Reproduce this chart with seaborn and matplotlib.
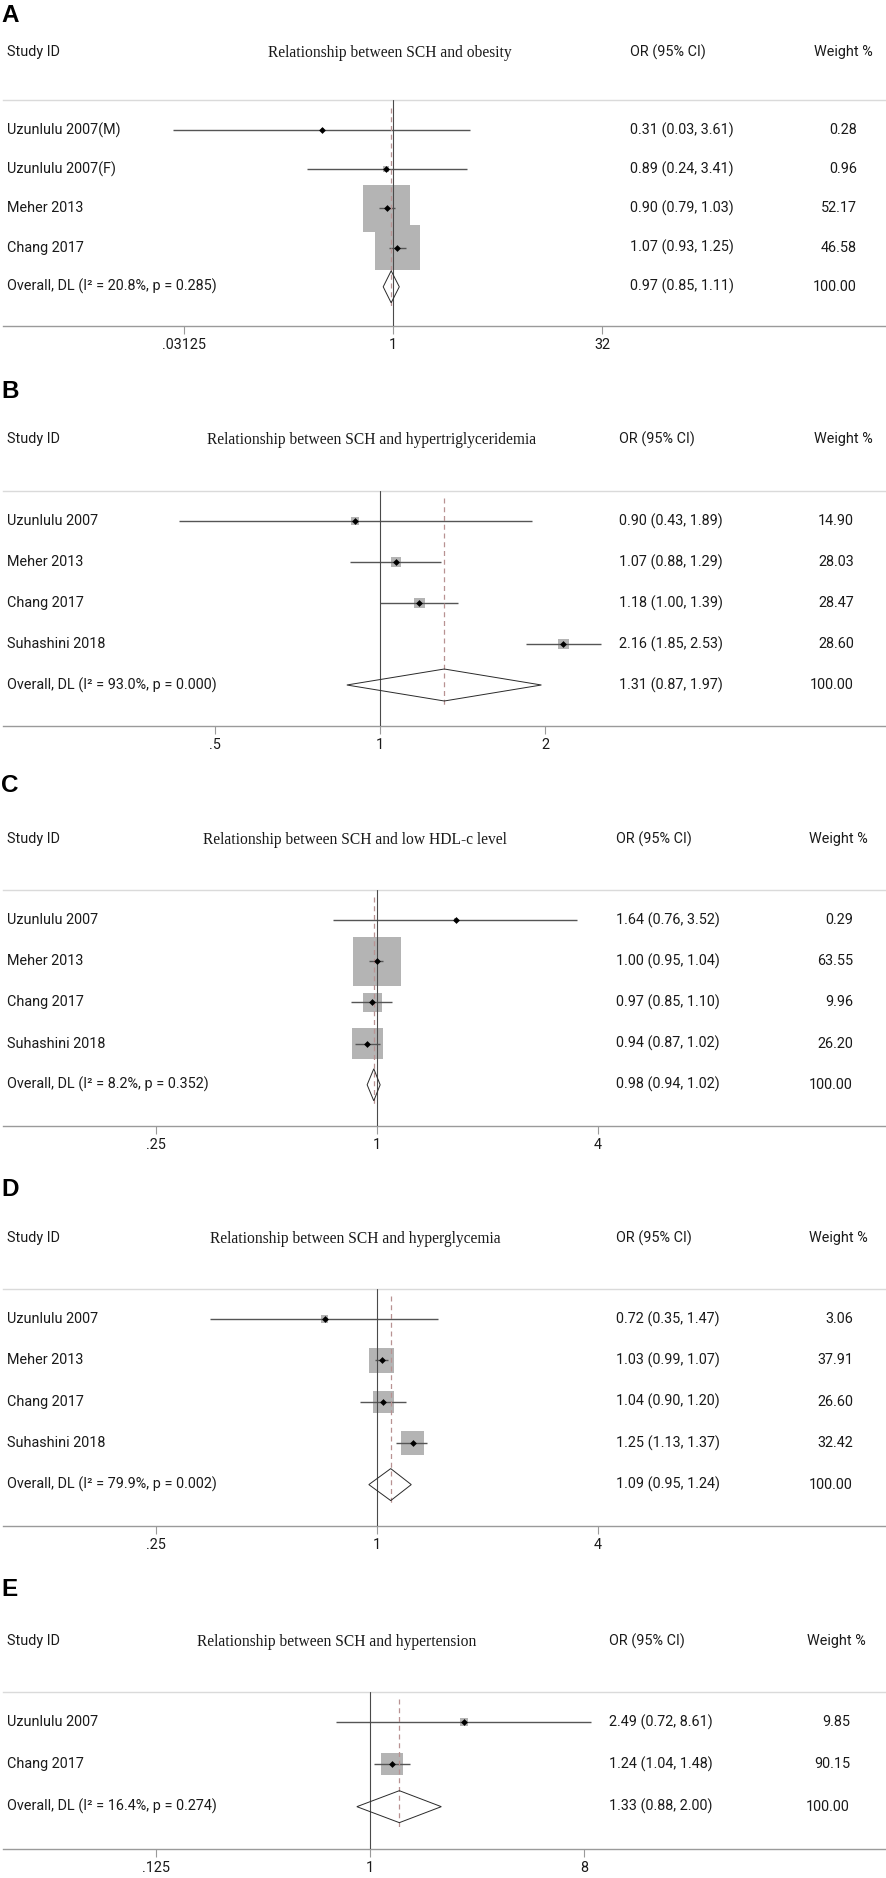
import numpy as np
import pandas as pd
import matplotlib
matplotlib.use("Agg")
import matplotlib.pyplot as plt
import seaborn as sns
from matplotlib.transforms import blended_transform_factory
from matplotlib.ticker import FixedLocator, FixedFormatter, NullLocator

# ---------------- data ----------------
a_studies = ["Uzunlulu 2007(M)", "Uzunlulu 2007(F)", "Meher 2013", "Chang 2017"]
a_or = [0.31, 0.89, 0.90, 1.07]
a_lo = [0.026, 0.24, 0.79, 0.93]
a_hi = [3.61, 3.41, 1.03, 1.25]
a_wt = [0.28, 0.96, 52.17, 46.58]
a_overall = [0.97, 0.85, 1.11]
a_het = ["20.8%", "0.285"]
a_ticks = [0.03125, 1, 32]
a_ticklabels = [".03125", "1", "32"]
a_title = "Relationship between SCH and obesity"

b_studies = ["Uzunlulu 2007", "Meher 2013", "Chang 2017", "Suhashini 2018"]
b_or = [0.90, 1.07, 1.18, 2.16]
b_lo = [0.43, 0.88, 1.00, 1.85]
b_hi = [1.89, 1.29, 1.39, 2.53]
b_wt = [14.90, 28.03, 28.47, 28.60]
b_overall = [1.31, 0.87, 1.97]
b_het = ["93.0%", "0.000"]
b_ticks = [0.5, 1, 2]
b_ticklabels = [".5", "1", "2"]
b_title = "Relationship between SCH and hypertriglyceridemia"

c_studies = ["Uzunlulu 2007", "Meher 2013", "Chang 2017", "Suhashini 2018"]
c_or = [1.64, 1.00, 0.97, 0.94]
c_lo = [0.76, 0.95, 0.85, 0.87]
c_hi = [3.52, 1.04, 1.10, 1.02]
c_wt = [0.29, 63.55, 9.96, 26.20]
c_overall = [0.98, 0.94, 1.02]
c_het = ["8.2%", "0.352"]
c_ticks = [0.25, 1, 4]
c_ticklabels = [".25", "1", "4"]
c_title = "Relationship between SCH and low HDL-c level"

d_studies = ["Uzunlulu 2007", "Meher 2013", "Chang 2017", "Suhashini 2018"]
d_or = [0.72, 1.03, 1.04, 1.25]
d_lo = [0.35, 0.99, 0.90, 1.13]
d_hi = [1.47, 1.07, 1.20, 1.37]
d_wt = [3.06, 37.91, 26.60, 32.42]
d_overall = [1.09, 0.95, 1.24]
d_het = ["79.9%", "0.002"]
d_ticks = [0.25, 1, 4]
d_ticklabels = [".25", "1", "4"]
d_title = "Relationship between SCH and hyperglycemia"

e_studies = ["Uzunlulu 2007", "Chang 2017"]
e_or = [2.49, 1.24]
e_lo = [0.72, 1.04]
e_hi = [8.61, 1.48]
e_wt = [9.85, 90.15]
e_overall = [1.33, 0.88, 2.00]
e_het = ["16.4%", "0.274"]
e_ticks = [0.125, 1, 8]
e_ticklabels = [".125", "1", "8"]
e_title = "Relationship between SCH and hypertension"

panel_letters = ["A", "B", "C", "D", "E"]

# ---------------- layout (pixels) ----------------
W, H = 886, 1878
layout = {
    #     label_y head_y sep  axis  x_one  ppo   title_cx or_x wt_r hwt_r box_k
    "A": (16,   52,   100,  326,  393, 41.8,  390, 630, 857, 873, 6.6),
    "B": (392,  439,  491,  726,  380, 165.0, 372, 619, 854, 873, 1.95),
    "C": (786,  839,  890,  1126, 377, 110.4, 355, 616, 853, 868, 6.1),
    "D": (1189, 1238, 1289, 1526, 377, 110.4, 355, 616, 853, 868, 4.15),
    "E": (1589, 1641, 1692, 1849, 370, 71.3,  337, 609, 850, 866, 2.35),
}

panels = {
    "A": (a_studies, a_or, a_lo, a_hi, a_wt, a_overall, a_het, a_ticks, a_ticklabels, a_title),
    "B": (b_studies, b_or, b_lo, b_hi, b_wt, b_overall, b_het, b_ticks, b_ticklabels, b_title),
    "C": (c_studies, c_or, c_lo, c_hi, c_wt, c_overall, c_het, c_ticks, c_ticklabels, c_title),
    "D": (d_studies, d_or, d_lo, d_hi, d_wt, d_overall, d_het, d_ticks, d_ticklabels, d_title),
    "E": (e_studies, e_or, e_lo, e_hi, e_wt, e_overall, e_het, e_ticks, e_ticklabels, e_title),
}

sns.set_theme(style="white")
plt.rcParams["font.family"] = ["Roboto", "DejaVu Sans"]

SANS = ["Roboto", "DejaVu Sans"]
SERIF = ["Liberation Serif", "DejaVu Serif"]
TXT = "#1a1a1a"
FS = 10.4

fig = plt.figure(figsize=(W / 100, H / 100), dpi=100)
fig.patch.set_facecolor("white")


def fx(px):
    return px / W


def fy(py):
    return 1 - py / H


for letter in panel_letters:
    studies, ors, los, his, wts, overall, het, ticks, ticklabels, title = panels[letter]
    (label_y, head_y, sep_y, axis_y, x_one, ppo, title_cx,
     or_x, wt_r, hwt_r, box_k) = layout[letter]

    n = len(studies) + 1
    spacing = (axis_y - sep_y - 30) / n

    ax = fig.add_axes([fx(3), fy(axis_y), fx(W - 3), (axis_y - sep_y) / H])
    ax.set_facecolor("none")
    ax.set_xscale("log", base=2)
    ax.set_xlim(2 ** ((3 - x_one) / ppo), 2 ** ((W - x_one) / ppo))
    ax.set_ylim(n, -30 / spacing)

    rows = np.arange(len(studies))
    df = pd.DataFrame({"study": studies, "or": ors, "lo": los, "hi": his,
                       "wt": wts, "row": rows})

    # weight boxes (area proportional to weight)
    side_pt2 = (box_k * 0.72) ** 2
    sns.scatterplot(data=df, x="or", y="row", size="wt", sizes=(0, side_pt2 * 100),
                    size_norm=(0, 100), marker="s", color="#b4b4b4", linewidth=0,
                    legend=False, ax=ax, zorder=1)
    # confidence intervals
    ax.hlines(df["row"], df["lo"], df["hi"], color="#555555", lw=1.0, zorder=2)
    # point estimates
    sns.scatterplot(data=df, x="or", y="row", marker="D", color="black", s=12,
                    linewidth=0, legend=False, ax=ax, zorder=4)

    # null line and overall line
    ax.axvline(1, color="#4a4a4a", lw=0.8, zorder=3)
    est, olo, ohi = overall
    orow = n - 1
    ax.vlines(est, -0.55, orow + 0.5, color="#b89292", lw=0.9,
              linestyles=(0, (4, 3)), zorder=3)
    # overall diamond
    dh = 0.39 * 41 / spacing
    ax.fill([olo, est, ohi, est, olo], [orow, orow - dh, orow, orow + dh, orow],
            facecolor="none", edgecolor="#2a2a2a", lw=0.7, zorder=5)

    # axes styling
    for side in ["left", "right"]:
        ax.spines[side].set_visible(False)
    ax.spines["top"].set_color("#dadada")
    ax.spines["top"].set_linewidth(1.0)
    ax.spines["bottom"].set_color("#9a9a9a")
    ax.spines["bottom"].set_linewidth(1.0)
    ax.set_yticks([])
    ax.xaxis.set_major_locator(FixedLocator(ticks))
    ax.xaxis.set_major_formatter(FixedFormatter(ticklabels))
    ax.xaxis.set_minor_locator(NullLocator())
    ax.tick_params(axis="x", which="major", direction="out", length=5.5, width=0.8,
                   color="#9a9a9a", pad=3.0, labelsize=FS, labelcolor=TXT,
                   bottom=True)
    for lab in ax.get_xticklabels():
        lab.set_family(SANS)
    ax.set_xlabel("")
    ax.set_ylabel("")
    ax.grid(False)

    # row texts
    tr = blended_transform_factory(fig.transFigure, ax.transData)
    labels = list(studies) + [f"Overall, DL (I\u00b2 = {het[0]}, p = {het[1]})"]
    est_txt = [f"{o:.2f} ({l:.2f}, {h:.2f})" for o, l, h in zip(ors, los, his)]
    est_txt.append(f"{est:.2f} ({olo:.2f}, {ohi:.2f})")
    wt_txt = [f"{w:.2f}" for w in wts] + ["100.00"]
    for i in range(n):
        ax.text(fx(7), i, labels[i], transform=tr, ha="left", va="center",
                fontsize=FS, color=TXT, family=SANS, clip_on=False)
        ax.text(fx(or_x), i, est_txt[i], transform=tr, ha="left", va="center",
                fontsize=FS, color=TXT, family=SANS, clip_on=False)
        ax.text(fx(wt_r), i, wt_txt[i], transform=tr, ha="right", va="center",
                fontsize=FS, color=TXT, family=SANS, clip_on=False)

    # header texts
    fig.text(fx(1), fy(label_y), letter, ha="left", va="center", fontsize=17.5,
             fontweight="bold", color="black", family=["Liberation Sans", "DejaVu Sans"])
    fig.text(fx(7), fy(head_y), "Study ID", ha="left", va="center", fontsize=FS,
             color=TXT, family=SANS)
    fig.text(fx(title_cx), fy(head_y + 1), title, ha="center", va="center",
             fontsize=11.2, color=TXT, family=SERIF)
    fig.text(fx(or_x), fy(head_y), "OR (95% CI)", ha="left", va="center",
             fontsize=FS, color=TXT, family=SANS)
    fig.text(fx(hwt_r), fy(head_y), "Weight %", ha="right", va="center",
             fontsize=FS, color=TXT, family=SANS)

fig.savefig("out.png", dpi=100, facecolor="white")
